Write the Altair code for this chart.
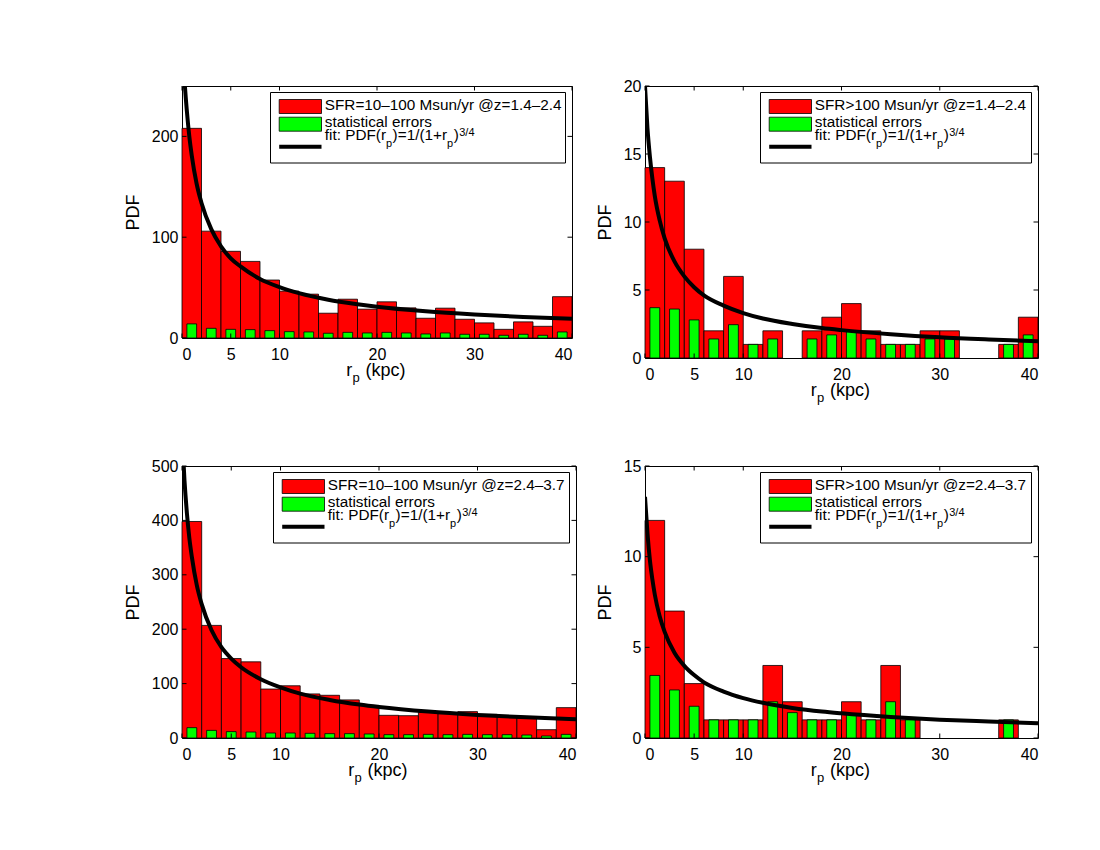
import altair as alt
import pandas as pd

# ---------------- data ----------------
bin_left = list(range(0, 40, 2))          # histogram bins of 2 kpc
x_ticks = [0, 5, 10, 20, 30, 40]

red_1 = [208, 106, 86, 76, 57.5, 46.5, 43.5, 24.6, 38.5, 28.6,
         35.9, 29.9, 19.6, 29.6, 18.6, 15, 8.6, 16, 11.6, 41]
green_1 = [14, 9.6, 8.6, 8.3, 7.3, 6.3, 6, 4.7, 5.6, 5,
           5.6, 5, 4, 5, 3.7, 3.7, 2.7, 3.7, 2.7, 6]

red_2 = [14, 13, 8, 2, 6, 1, 2, 0, 2, 3, 4, 2, 1, 1, 2, 2, 0, 0, 1, 3]
green_2 = [3.7, 3.6, 2.8, 1.4, 2.45, 1, 1.4, 0, 1.4, 1.7,
           2, 1.4, 1, 1, 1.4, 1.4, 0, 0, 1, 1.7]

red_3 = [398, 207, 146, 140, 90, 96, 81, 78.5, 70, 60,
         41.7, 41, 47, 44.8, 48.5, 43.6, 40, 36.8, 15.3, 55.8]
green_3 = [19, 14, 11.7, 11, 9.2, 9.2, 8.6, 8, 8, 7.4,
           6.1, 6.1, 6.7, 6.1, 6.7, 6.1, 6.1, 5.5, 3.7, 6.7]

red_4 = [12, 7, 3, 1, 1, 1, 4, 2, 1, 1, 2, 1, 4, 1, 0, 0, 0, 0, 1, 0]
green_4 = [3.45, 2.65, 1.75, 1, 1, 1, 2, 1.4, 1, 1,
           1.3, 1, 2, 1, 0, 0, 0, 0, 1, 0]

# fitted curve
fit_r = [0, 0.25, 0.5, 0.75, 1, 1.5, 2, 3, 4, 5, 6, 8, 10, 12, 15, 18, 20, 25, 30, 35, 40]
fit_1 = [305, 257, 225, 200, 181, 153, 134, 108, 91, 79, 71, 58.5, 50.5, 44.5, 38,
         33.5, 31, 26.5, 23.3, 20.8, 19]
fit_2 = [20, 16.9, 14.8, 13.2, 11.9, 10.1, 8.8, 7.1, 6.0, 5.2, 4.6, 3.85, 3.3, 2.9, 2.5,
         2.2, 2.05, 1.75, 1.52, 1.36, 1.23]
fit_3 = [560, 474, 413, 367, 333, 281, 246, 198, 167, 146, 130, 108, 93, 81.5, 70,
         61.5, 57, 48.5, 42.5, 38, 34.5]
fit_4 = [13.3, 11.3, 9.8, 8.75, 7.9, 6.7, 5.85, 4.7, 3.98, 3.47, 3.07, 2.56, 2.2, 1.94, 1.66,
         1.46, 1.36, 1.16, 1.01, 0.91, 0.82]

y_ticks_1, y_max_1 = [0, 100, 200], 250
y_ticks_2, y_max_2 = [0, 5, 10, 15, 20], 20
y_ticks_3, y_max_3 = [0, 100, 200, 300, 400, 500], 500
y_ticks_4, y_max_4 = [0, 5, 10, 15], 15

labels = ["SFR=10\u2013100 Msun/yr @z=1.4\u20132.4",
          "SFR>100 Msun/yr @z=1.4\u20132.4",
          "SFR=10\u2013100 Msun/yr @z=2.4\u20133.7",
          "SFR>100 Msun/yr @z=2.4\u20133.7"]
err_label = "statistical errors"

FONT = "Liberation Sans"
RED = "#ff0000"
GREEN = "#00ff00"

# Arial/Helvetica advance widths (per 1000 em) for placing legend pieces
AW = {' ': 278, '(': 333, ')': 333, '+': 584, '/': 278, '1': 556, '3': 556, '4': 556,
      ':': 278, '=': 584, 'D': 722, 'F': 611, 'P': 667, 'f': 278, 'i': 222, 'p': 556,
      'r': 333, 't': 278}


def tw(s, size):
    return sum(AW.get(c, 556) for c in s) * size / 1000.0


def one(text):
    return alt.Chart(pd.DataFrame({"t": [text]}))


def txt(text, x, y, size, align="left"):
    return one(text).mark_text(font=FONT, fontSize=size, color="black", align=align,
                               baseline="alphabetic").encode(
        text="t:N", x=alt.value(x), y=alt.value(y))


def panel(red, green, fit, y_max, y_ticks, label, w, h, box_w):
    xs = alt.Scale(domain=[0, 40], nice=False, zero=False)
    ys = alt.Scale(domain=[0, y_max], nice=False)
    xaxis = alt.Axis(values=x_ticks, format="d", labelPadding=8, title=None)
    yaxis = alt.Axis(values=y_ticks, format="d", labelPadding=4, title="PDF",
                     titlePadding=9)

    def X(f):
        return alt.X(f, scale=xs, axis=xaxis)

    def Y(f):
        return alt.Y(f, scale=ys, axis=yaxis)

    df = pd.DataFrame({"x0": bin_left, "x1": [b + 2 for b in bin_left],
                       "g0": [b + 0.5 for b in bin_left], "g1": [b + 1.5 for b in bin_left],
                       "red": red, "green": green})
    red_bars = alt.Chart(df).transform_filter("datum.red > 0").mark_rect(
        color=RED, stroke="black", strokeWidth=0.8).encode(
        x=X("x0:Q"), x2="x1:Q", y=Y("red:Q"), y2=alt.datum(0))
    green_bars = alt.Chart(df).transform_filter("datum.green > 0").mark_rect(
        color=GREEN, stroke="black", strokeWidth=0.8).encode(
        x=X("g0:Q"), x2="g1:Q", y=Y("green:Q"), y2=alt.datum(0))
    curve = alt.Chart(pd.DataFrame({"r": fit_r, "pdf": fit})).mark_line(
        color="black", strokeWidth=4, clip=True, interpolate="monotone").encode(
        x=X("r:Q"), y=Y("pdf:Q"))
    tl = 4.5
    xt = alt.Chart(pd.DataFrame({"t": x_ticks}))
    yt = alt.Chart(pd.DataFrame({"t": y_ticks}))
    tick_b = xt.mark_rule(color="black", strokeWidth=1).encode(
        x=X("t:Q"), y=alt.value(h), y2=alt.value(h - tl))
    tick_t = xt.mark_rule(color="black", strokeWidth=1).encode(
        x=X("t:Q"), y=alt.value(0), y2=alt.value(tl))
    tick_l = yt.mark_rule(color="black", strokeWidth=1).encode(
        y=Y("t:Q"), x=alt.value(0), x2=alt.value(tl))
    tick_r = yt.mark_rule(color="black", strokeWidth=1).encode(
        y=Y("t:Q"), x=alt.value(w), x2=alt.value(w - tl))

    # legend box (MATLAB style)
    R = w - 6.5
    L = R - box_w
    T = 6.5
    B = T + 70.5
    box = one("").mark_rect(fill="white", stroke="black", strokeWidth=1).encode(
        x=alt.value(L), x2=alt.value(R), y=alt.value(T), y2=alt.value(B))
    sw_red = one("").mark_rect(fill=RED, stroke="black", strokeWidth=0.8).encode(
        x=alt.value(L + 8.7), x2=alt.value(L + 51), y=alt.value(T + 7), y2=alt.value(T + 21))
    sw_green = one("").mark_rect(fill=GREEN, stroke="black", strokeWidth=0.8).encode(
        x=alt.value(L + 8.7), x2=alt.value(L + 51), y=alt.value(T + 24.7), y2=alt.value(T + 38.7))
    sw_line = one("").mark_rule(color="black", strokeWidth=4).encode(
        x=alt.value(L + 8.7), x2=alt.value(L + 51), y=alt.value(T + 54.3))
    fs, ss = 15.3, 11
    tx = L + 54.3
    t1 = txt(label, tx, T + 17, fs)
    t2 = txt(err_label, tx, T + 34.2, fs)
    s1 = "fit: PDF(r"
    s3 = ")=1/(1+r"
    x1 = tx
    x2 = x1 + tw(s1, fs)
    x3 = x2 + tw("p", ss) + 0.5
    x4 = x3 + tw(s3, fs)
    x5 = x4 + tw("p", ss) + 0.5
    x6 = x5 + tw(")", fs) + 0.5
    base = T + 47.5
    t3 = [txt(s1, x1, base, fs), txt("p", x2, base + 6.5, ss), txt(s3, x3, base, fs),
          txt("p", x4, base + 6.5, ss), txt(")", x5, base, fs), txt("3/4", x6, base - 4, ss)]

    # x-axis title r_p (kpc)
    c = w / 2.0
    xt1 = txt("r", c - 30.8, h + 38.3, 18)
    xt2 = txt("p", c - 24.5, h + 44.3, 13)
    xt3 = txt("(kpc)", c - 11.5, h + 38.3, 18)

    layers = [red_bars, green_bars, curve, tick_b, tick_t, tick_l, tick_r,
              box, sw_red, sw_green, sw_line, t1, t2] + t3 + [xt1, xt2, xt3]
    return alt.layer(*layers).properties(width=w, height=h)


p1 = panel(red_1, green_1, fit_1, y_max_1, y_ticks_1, labels[0], 390, 252, 295)
p2 = panel(red_2, green_2, fit_2, y_max_2, y_ticks_2, labels[1], 393, 272, 271)
p3 = panel(red_3, green_3, fit_3, y_max_3, y_ticks_3, labels[2], 394, 272, 296)
p4 = panel(red_4, green_4, fit_4, y_max_4, y_ticks_4, labels[3], 393, 272, 271)

chart = alt.concat(p1, p2, p3, p4, columns=2,
                   spacing={"row": 108, "column": 69}, bounds="flush").properties(
    padding={"left": 115, "top": 69, "right": 40, "bottom": 40},
    background="white",
).configure(font=FONT).configure_view(
    stroke="black", strokeWidth=1
).configure_axis(
    labelFont=FONT, labelFontSize=16, labelColor="black",
    titleFont=FONT, titleFontSize=18, titleFontWeight="normal", titleColor="black",
    ticks=False, domain=False, grid=False
)

chart.save("out.html", embed_options={"renderer": "svg", "actions": False})
